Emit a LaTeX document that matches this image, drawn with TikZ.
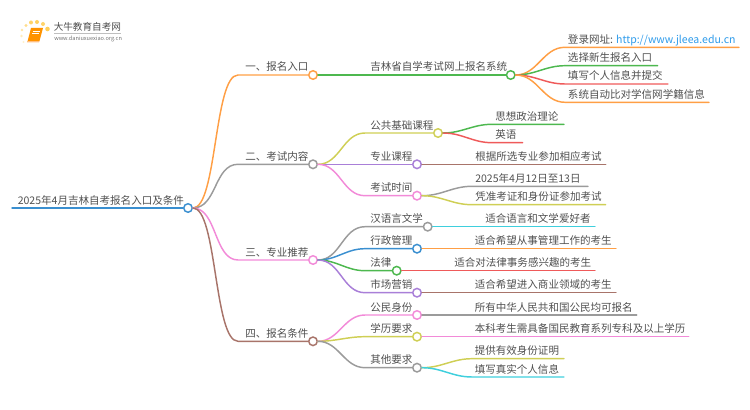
\documentclass[tikz,border=0pt]{standalone}
\usepackage{fontspec}
\setmainfont{Noto Sans CJK SC}
\definecolor{cO}{HTML}{FF9F45}
\definecolor{cG}{HTML}{4DB84F}
\definecolor{cA}{HTML}{9B9B9B}
\definecolor{cY}{HTML}{CFCF55}
\definecolor{cP}{HTML}{A97FD8}
\definecolor{cK}{HTML}{F28AD8}
\definecolor{cB}{HTML}{A8746A}
\definecolor{cU}{HTML}{3A8FD0}
\definecolor{cR}{HTML}{EF5A5A}
\definecolor{cC}{HTML}{3FCFDD}
\definecolor{txt}{HTML}{505050}
\definecolor{lnk}{HTML}{2E9BEA}
\definecolor{spk}{HTML}{FFCF5A}
\tikzset{
  dot/.style={circle,draw=#1,fill=white,line width=1.1pt,minimum size=6.4pt,inner sep=0pt},
  lab/.style={anchor=base west,inner sep=0pt,text=txt,font=\fontsize{7.9pt}{9pt}\selectfont},
  edge/.style={draw=#1,line width=1.1pt,line cap=round},
  spark/.style={circle,fill=#1,inner sep=0pt,draw=none},
}
% \lk{from}{to}{colour}{end}: connector with a horizontal straight run to a named end
\newcommand{\lk}[4]{\draw[edge=#3] (#1.east) to[out=0,in=180] (#2) -- (#4);}
\begin{document}
\begin{tikzpicture}[x=0.75pt,y=-0.75pt]
\useasboundingbox (0,0) rectangle (750,410);
% logo
\foreach \n/\px/\py/\r/\o in {a/47.5/29/2.3/1,b/43/24/2/.9,c/37/22/2/.95,d/31/22.5/2/.9,e/26/25.5/1.6/.7,f/22/30/1.4/.55,g/21.5/36/1.3/.4,h/23.5/42/1.2/.3}
  \node[spark=spk,minimum size=2*\r*0.75pt,opacity=\o] (logo\n) at (\px,\py) {};
\fill[orange!85!yellow] (31,28) -- (43,28) -- (39.5,41) -- (27.5,41.5) -- cycle;
\fill[orange!50!white] (27,41.2) -- (39.5,41) -- (39,42.5) -- (27,42.5) -- cycle;
\draw[white,line width=.4pt] (32.5,31) -- (40,31) (32,33.5) -- (39,33.5);
\node[anchor=base west,inner sep=0pt,text=black!70,font=\fontsize{7.2pt}{8pt}\selectfont] (logot) at (53.5,30.5) {大牛教育自考网};
\draw[black!25,line width=.3pt] (54,33.3) -- (121,33.3);
\node[anchor=base west,inner sep=0pt,text=black!55,font=\fontsize{4.2pt}{5pt}\selectfont] (logou) at (54,40.5) {www.daniuxuexiao.org.cn};
% circles
\node[dot=cU] (root) at (188,208) {};
\node[dot=cO] (n1) at (313,75) {};
\node[dot=cA] (n2) at (313,164.3) {};
\node[dot=cK] (n3) at (313,260) {};
\node[dot=cB] (n4) at (313,341.3) {};
\node[dot=cG] (sys) at (510.7,75) {};
\node[dot=cY] (a1) at (438,133) {};
\node[dot=cP] (a2) at (417,164.3) {};
\node[dot=cK] (a3) at (417,195.7) {};
\node[dot=cA] (b1) at (427.7,226.7) {};
\node[dot=cU] (b2) at (417,248.7) {};
\node[dot=cG] (b3) at (396.7,270.7) {};
\node[dot=cP] (b4) at (417,292.7) {};
\node[dot=cK] (c1) at (417,315) {};
\node[dot=cY] (c2) at (417,336.7) {};
\node[dot=cA] (c3) at (417,367.7) {};
% labels
\node[lab] (troot) at (17.5,204) {2025年4月吉林自考报名入口及条件};
\node[lab] (t1) at (245,71) {一、报名入口};
\node[lab] (t2) at (245,160.3) {二、考试内容};
\node[lab] (t3) at (245,256) {三、专业推荐};
\node[lab] (t4) at (245,337.3) {四、报名条件};
\node[lab] (tsys) at (370,71) {吉林省自学考试网上报名系统};
\node[lab] (s1) at (567.7,43.3) {登录网址: \textcolor{lnk}{http://www.jleea.edu.cn}};
\node[lab] (s2) at (567.7,61.7) {选择新生报名入口};
\node[lab] (s3) at (567.7,80) {填写个人信息并提交};
\node[lab] (s4) at (567.7,98.3) {系统自动比对学信网学籍信息};
\node[lab] (ta1) at (370,129) {公共基础课程};
\node[lab] (ta2) at (370,160.3) {专业课程};
\node[lab] (ta3) at (370,191.7) {考试时间};
\node[lab] (a11) at (495,120.3) {思想政治理论};
\node[lab] (a12) at (495,138.7) {英语};
\node[lab] (a21) at (475,160.3) {根据所选专业参加相应考试};
\node[lab] (a31) at (475,182.3) {2025年4月12日至13日};
\node[lab] (a32) at (475,200.7) {凭准考证和身份证参加考试};
\node[lab] (tb1) at (370,222.7) {汉语言文学};
\node[lab] (tb2) at (370,244.7) {行政管理};
\node[lab] (tb3) at (370,266.7) {法律};
\node[lab] (tb4) at (370,288.7) {市场营销};
\node[lab] (b11) at (485,222.7) {适合语言和文学爱好者};
\node[lab] (b21) at (474.5,244.7) {适合希望从事管理工作的考生};
\node[lab] (b31) at (454,266.7) {适合对法律事务感兴趣的考生};
\node[lab] (b41) at (474.5,288.7) {适合希望进入商业领域的考生};
\node[lab] (tc1) at (370,311) {公民身份};
\node[lab] (tc2) at (370,332.7) {学历要求};
\node[lab] (tc3) at (370,363.7) {其他要求};
\node[lab] (c11) at (474.5,311) {所有中华人民共和国公民均可报名};
\node[lab] (c21) at (474.5,332.7) {本科考生需具备国民教育系列专科及以上学历};
\node[lab] (c31) at (474.5,354.7) {提供有效身份证明};
\node[lab] (c32) at (474.5,373) {填写真实个人信息};
% free ends of the runs
\coordinate (rootstart) at (12,208);
\coordinate (k1) at (238,75);
\coordinate (k2) at (238,164.3);
\coordinate (k3) at (238,260);
\coordinate (k4) at (238,341.3);
\coordinate (ks1) at (565,47.3);   \coordinate (e1) at (739,47.3);
\coordinate (ks2) at (565,65.7);   \coordinate (e2) at (657.7,65.7);
\coordinate (ks3) at (565,84);     \coordinate (e3) at (668,84);
\coordinate (ks4) at (565,102.3);  \coordinate (e4) at (709,102.3);
\coordinate (ka1) at (365,133);
\coordinate (ka3) at (365,195.7);
\coordinate (ka11) at (492,124.3); \coordinate (ea11) at (564,124.3);
\coordinate (ka12) at (492,142.7); \coordinate (ea12) at (522.7,142.7);
\coordinate (ea21) at (605.7,164.3);
\coordinate (ka31) at (472,186.3); \coordinate (ea31) at (588,186.3);
\coordinate (ka32) at (472,204.7); \coordinate (ea32) at (605.7,204.7);
\coordinate (kb1) at (365,226.7);
\coordinate (kb2) at (365,248.7);
\coordinate (kb3) at (365,270.7);
\coordinate (kb4) at (365,292.7);
\coordinate (eb1) at (595,226.7);
\coordinate (eb2) at (616,248.7);
\coordinate (eb3) at (595,270.7);
\coordinate (eb4) at (616,292.7);
\coordinate (kc1) at (365,315);
\coordinate (kc2) at (365,336.7);
\coordinate (kc3) at (365,367.7);
\coordinate (ec1) at (636.7,315);
\coordinate (ec2) at (688.7,336.7);
\coordinate (kc31) at (472,358.7); \coordinate (ec31) at (564,358.7);
\coordinate (kc32) at (472,377);   \coordinate (ec32) at (564,377);
% connectors
\draw[edge=cU] (rootstart) -- (root.west);
\draw[edge=cO] (root.east) .. controls +(24,0) and +(-24,0) .. (k1) -- (n1.west);
\draw[edge=cA] (root.east) .. controls +(24,0) and +(-24,0) .. (k2) -- (n2.west);
\draw[edge=cK] (root.east) .. controls +(24,0) and +(-24,0) .. (k3) -- (n3.west);
\draw[edge=cB] (root.east) .. controls +(24,0) and +(-24,0) .. (k4) -- (n4.west);
\draw[edge=cG] (n1.east) -- (sys.west);
\lk{sys}{ks1}{cO}{e1}
\lk{sys}{ks2}{cG}{e2}
\lk{sys}{ks3}{cR}{e3}
\lk{sys}{ks4}{cO}{e4}
\draw[edge=cY] (n2.east) to[out=0,in=180] (ka1) -- (a1.west);
\draw[edge=cP] (n2.east) -- (a2.west);
\draw[edge=cK] (n2.east) to[out=0,in=180] (ka3) -- (a3.west);
\lk{a1}{ka11}{cG}{ea11}
\lk{a1}{ka12}{cR}{ea12}
\draw[edge=cB] (a2.east) -- (ea21);
\lk{a3}{ka31}{cA}{ea31}
\lk{a3}{ka32}{cY}{ea32}
\draw[edge=cA] (n3.east) to[out=0,in=180] (kb1) -- (b1.west);
\draw[edge=cU] (n3.east) to[out=0,in=180] (kb2) -- (b2.west);
\draw[edge=cG] (n3.east) to[out=0,in=180] (kb3) -- (b3.west);
\draw[edge=cP] (n3.east) to[out=0,in=180] (kb4) -- (b4.west);
\draw[edge=cC] (b1.east) -- (eb1);
\draw[edge=cO] (b2.east) -- (eb2);
\draw[edge=cR] (b3.east) -- (eb3);
\draw[edge=cB] (b4.east) -- (eb4);
\draw[edge=cK] (n4.east) to[out=0,in=180] (kc1) -- (c1.west);
\draw[edge=cY] (n4.east) to[out=0,in=180] (kc2) -- (c2.west);
\draw[edge=cA] (n4.east) to[out=0,in=180] (kc3) -- (c3.west);
\draw[edge=cA] (c1.east) -- (ec1);
\draw[edge=cK] (c2.east) -- (ec2);
\lk{c3}{kc31}{cY}{ec31}
\lk{c3}{kc32}{cC}{ec32}
\end{tikzpicture}
\end{document}
